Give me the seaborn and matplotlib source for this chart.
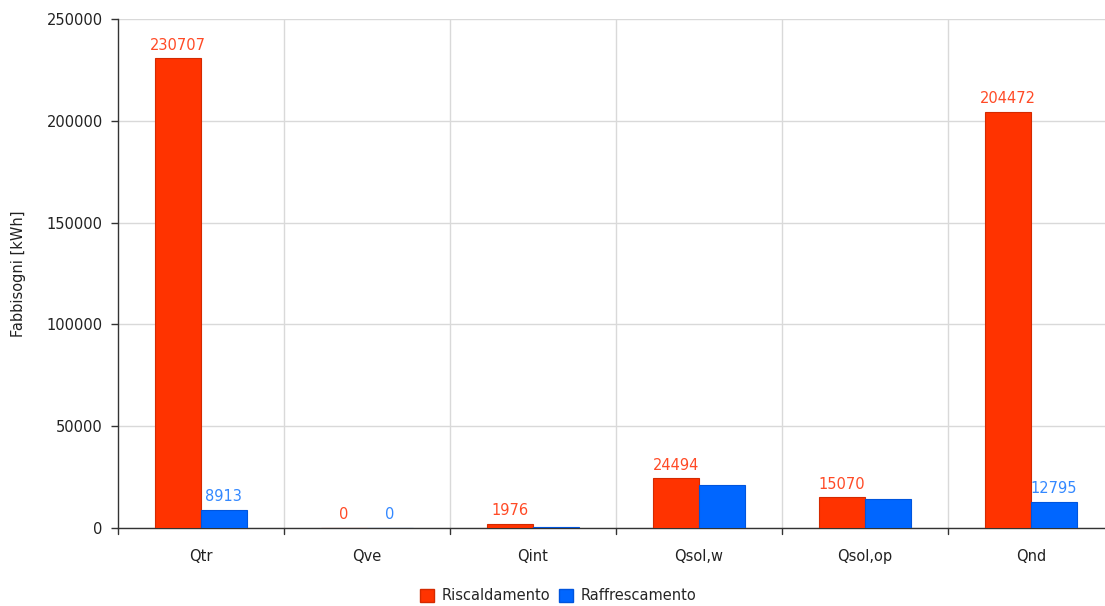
import matplotlib
matplotlib.use("Agg")
import matplotlib.pyplot as plt
from matplotlib.patches import Patch
import seaborn as sns
import pandas as pd

categories = ["Qtr", "Qve", "Qint", "Qsol,w", "Qsol,op", "Qnd"]
riscaldamento = [230707, 0, 1976, 24494, 15070, 204472]
raffrescamento = [8913, 0, 700, 21100, 14000, 12795]
# which values get a label printed above the bar
show_risc = [True, True, True, True, True, True]
show_raff = [True, True, False, False, False, True]
series_names = ["Riscaldamento", "Raffrescamento"]
y_ticks = [0, 50000, 100000, 150000, 200000, 250000]

bar_colors = ["#FF3300", "#0066FF"]
edge_colors = ["#D42A00", "#0055DD"]
label_colors = ["#FF4A26", "#3388FF"]

df = pd.DataFrame({
    "Categoria": categories * 2,
    "Serie": [series_names[0]] * len(categories) + [series_names[1]] * len(categories),
    "Valore": riscaldamento + raffrescamento,
})

sns.set_style("white")
plt.rcParams["font.family"] = ["Verdana", "DejaVu Sans"]
FS = 10.5

fig = plt.figure(figsize=(11.05, 6.06), dpi=100)
ax = fig.add_axes([118 / 1105, 1 - 528 / 606, 996 / 1105, 509 / 606])

sns.barplot(data=df, x="Categoria", y="Valore", hue="Serie",
            palette=bar_colors, width=0.55, gap=0, saturation=1,
            legend=False, ax=ax, zorder=3)

for i, cont in enumerate(ax.containers):
    for bar in cont:
        bar.set_edgecolor(edge_colors[i])
        bar.set_linewidth(0.8)
    shows = [show_risc, show_raff][i]
    vals = [riscaldamento, raffrescamento][i]
    labels = [f"{v}" if s else "" for v, s in zip(vals, shows)]
    ax.bar_label(cont, labels=labels, padding=4, color=label_colors[i], fontsize=FS)

ax.set_ylim(0, 250000)
ax.set_xlim(-0.5, len(categories) - 0.5)
ax.set_yticks(y_ticks)
ax.set_yticklabels([str(t) for t in y_ticks], fontsize=FS, color="#222222")
ax.set_xticks(range(len(categories)))
ax.set_xticklabels(categories, fontsize=FS, color="#222222")
ax.tick_params(axis="x", length=0, pad=15)
ax.tick_params(axis="y", length=5, width=1, color="#333333", left=True, pad=6)

# category boundaries: vertical grid lines and tick marks on the x axis
for b in range(len(categories)):
    xb = b - 0.5
    if b > 0:
        ax.axvline(xb, color="#D9D9D9", lw=1, zorder=0)
    ax.plot([xb, xb], [0, -0.012], transform=ax.get_xaxis_transform(),
            color="#333333", lw=1, clip_on=False)
ax.yaxis.grid(True, color="#D9D9D9", lw=1, zorder=0)
ax.set_axisbelow(True)

for side in ["top", "right"]:
    ax.spines[side].set_visible(False)
for side in ["left", "bottom"]:
    ax.spines[side].set_color("#333333")
    ax.spines[side].set_linewidth(1)

ax.set_xlabel("")
ax.set_ylabel("Fabbisogni [kWh]", fontsize=FS, color="#222222")
ax.yaxis.set_label_coords(-0.092, 0.5)

handles = [Patch(facecolor=bar_colors[i], edgecolor=edge_colors[i], label=series_names[i])
           for i in range(2)]
fig.legend(handles=handles, loc="center", bbox_to_anchor=(0.505, 1 - 596 / 606),
           ncol=2, frameon=False, fontsize=FS, handlelength=1.0, handleheight=1.0,
           handletextpad=0.5, columnspacing=0.6)

fig.savefig("out.png", dpi=100)
